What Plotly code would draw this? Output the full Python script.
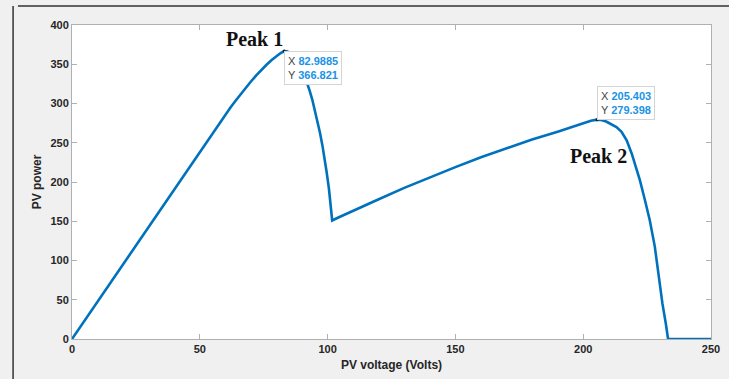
import plotly.graph_objects as go

# PV array power–voltage curve under partial shading (two local maxima)
pv_voltage = [0, 20, 40, 60, 62, 64, 66, 68, 70, 72, 74, 76, 78, 80, 81.5, 82.9885,
              84, 85, 86, 87, 88, 89, 90, 91, 92, 93, 94, 95, 96, 97, 98, 99, 99.6, 100.5, 101.2, 101.8,
              104, 110, 120, 130, 140, 150, 160, 170, 180, 190, 195, 200, 203, 205.403,
              207, 209, 211, 213, 215, 217, 219, 221, 222.2, 224, 226, 228, 229.6, 231, 232.3, 233.2,
              240, 250]
pv_power = [0, 95.5, 191, 286, 295, 303.5, 312, 320, 328, 335.5, 342.5, 349, 355, 360.5, 364, 366.821,
            366.5, 365, 362.5, 359, 354.5, 349, 342.5, 335, 326, 316, 305, 292, 278, 263, 246, 227, 213, 192, 172, 151,
            154.5, 163, 178, 192.5, 206, 219, 231.5, 243, 254, 264, 269.5, 275, 278, 279.398,
            279, 277, 274, 270, 264, 253, 236, 215, 202, 179, 152, 118, 75, 45, 20, 0,
            0, 0]

# data tips at the two maxima
tip_x = [82.9885, 205.403]
tip_y = [366.821, 279.398]
tip_anchor = [("left", "top"), ("left", "bottom")]

peak_labels = ["Peak 1", "Peak 2"]
peak_label_pos = [(71.5, 382), (206, 233)]

x_ticks = [0, 50, 100, 150, 200, 250]
y_ticks = [0, 50, 100, 150, 200, 250, 300, 350, 400]

fig = go.Figure()
fig.add_trace(go.Scatter(x=pv_voltage, y=pv_power, mode="lines",
                         line=dict(color="#0072BD", width=2.6),
                         hoverinfo="skip"))
fig.add_trace(go.Scatter(x=tip_x, y=tip_y, mode="markers",
                         marker=dict(color="#222222", size=3), hoverinfo="skip"))

for (tx, ty), (xa, ya) in zip(zip(tip_x, tip_y), tip_anchor):
    fig.add_annotation(
        x=tx, y=ty, xref="x", yref="y", showarrow=False,
        xanchor=xa, yanchor=ya, align="left",
        text=(f"<span style='color:#444444'>X</span> <b><span style='color:#1a93e6'>{tx:g}</span></b><br>"
              f"<span style='color:#444444'>Y</span> <b><span style='color:#1a93e6'>{ty:g}</span></b>"),
        font=dict(family="Liberation Sans, Arial", size=11),
        bgcolor="white", bordercolor="#d4d4d4", borderwidth=1, borderpad=3,
    )

for lbl, (lx, ly) in zip(peak_labels, peak_label_pos):
    fig.add_annotation(x=lx, y=ly, xref="x", yref="y", showarrow=False,
                       text=f"<b>{lbl}</b>",
                       font=dict(family="Liberation Serif, Times New Roman, serif",
                                 size=20, color="#111111"))

axis_common = dict(
    showline=True, linecolor="#b0b0b0", linewidth=1, mirror="ticks",
    ticks="inside", ticklen=5, tickcolor="#b0b0b0", tickwidth=1,
    showgrid=False, zeroline=False, automargin=False,
    tickfont=dict(family="Liberation Sans, Arial", size=11, color="#262626"),
)

fig.update_xaxes(range=[0, 250], tickvals=x_ticks, ticktext=[f"<b>{v}</b>" for v in x_ticks],
                 title=dict(text="<b>PV voltage (Volts)</b>", standoff=6,
                            font=dict(family="Liberation Sans, Arial", size=12, color="#262626")),
                 **axis_common)
fig.update_yaxes(range=[0, 400], tickvals=y_ticks, ticktext=[f"<b>{v}</b>" for v in y_ticks],
                 title=dict(text="<b>PV power</b>", standoff=6,
                            font=dict(family="Liberation Sans, Arial", size=12, color="#262626")),
                 **axis_common)

# window frame edges along the top and left
fig.add_shape(type="line", xref="paper", yref="paper", x0=-0.0846, x1=1.05, y0=1.0603, y1=1.0603,
              line=dict(color="#333333", width=1.5))
fig.add_shape(type="line", xref="paper", yref="paper", x0=-0.0922, x1=-0.0922, y0=-0.2, y1=1.0603,
              line=dict(color="#333333", width=1.5))

fig.update_layout(
    width=729, height=379,
    margin=dict(l=72, r=18, t=25, b=40),
    paper_bgcolor="#f0f0f0", plot_bgcolor="white",
    showlegend=False,
)

fig.write_html("out.html")
